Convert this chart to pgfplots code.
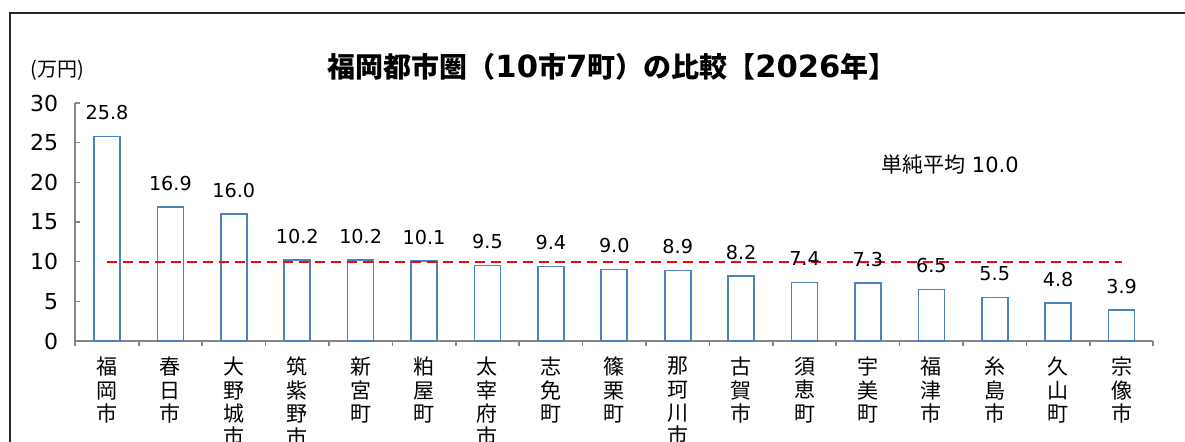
\documentclass[border=0pt]{standalone}
\usepackage{pgfplots}
\pgfplotsset{compat=1.18}
\usepackage{fontspec}
\setmainfont{DejaVu Sans}
\newfontfamily\jp{Noto Sans CJK JP}
\newfontfamily\jpb{Noto Sans CJK JP Bold}
\definecolor{barblue}{RGB}{79,129,189}
\definecolor{axgray}{RGB}{134,134,134}
\begin{document}
\begin{tikzpicture}[x=1pt,y=1pt]
\path[use as bounding box] (0,0) rectangle (592.5,220.5);
\draw[line width=1pt,black!85] (5,-10) -- (5,214) -- (600,214);
\begin{axis}[
  at={(53.5pt,50pt)}, anchor=origin,
  scale only axis, width=539pt, height=119pt,
  xmin=-0.5, xmax=16.5, ymin=0, ymax=30,
  axis x line=bottom, axis y line=left,
  axis line style={axgray, line width=1pt, -},
  ytick={0,5,...,30},
  xtick={0,...,16},
  minor xtick={-0.5,0.5,...,16.5},
  xticklabels={{福\\岡\\市},{春\\日\\市},{大\\野\\城\\市},{筑\\紫\\野\\市},{新\\宮\\町},{粕\\屋\\町},{太\\宰\\府\\市},{志\\免\\町},{篠\\栗\\町},{那\\珂\\川\\市},{古\\賀\\市},{須\\恵\\町},{宇\\美\\町},{福\\津\\市},{糸\\島\\市},{久\\山\\町},{宗\\像\\市}},
  xticklabel style={align=center, font=\jp\fontsize{10.5}{11.7}\selectfont, anchor=north, yshift=-2pt},
  yticklabel style={font=\fontsize{11}{12}\selectfont, xshift=-5pt},
  /pgf/number format/assume math mode=true,
  tick align=inside,
  major x tick style={draw=none},
  minor x tick style={axgray, line width=0.8pt},
  minor tick length=2.5pt,
  major tick length=2.5pt,
  y tick style={axgray, line width=0.8pt},
  ybar, bar width=13pt,
  nodes near coords={\pgfmathprintnumber[fixed,fixed zerofill,precision=1,assume math mode=true]{\pgfplotspointmeta}},
  nodes near coords style={font=\fontsize{9.6}{11}\selectfont, yshift=4.5pt},
  clip=false,
]
\addplot[draw=barblue, fill=white, line width=0.8pt] coordinates {
(0,25.8) (1,16.9) (2,16.0) (3,10.2) (4,10.2) (5,10.1) (6,9.5) (7,9.4) (8,9.0)
(9,8.9) (10,8.2) (11,7.4) (12,7.3) (13,6.5) (14,5.5) (15,4.8) (16,3.9)};
\addplot[sharp plot, red, line width=1.1pt, dash pattern=on 5pt off 3pt, nodes near coords={}] coordinates {(0,10) (16,10)};
\end{axis}
\node[font=\jp\fontsize{10}{12}\selectfont] at (28.5,185.5) {(万円)};
\node[font=\bfseries\fontsize{15.3}{17}\selectfont] at (306,187) {{\jpb\fontsize{14}{15}\selectfont 福岡都市圏（}10{\jpb\fontsize{14}{15}\selectfont 市}7{\jpb\fontsize{14}{15}\selectfont 町）の比較【}2026{\jpb\fontsize{14}{15}\selectfont 年】}};
\node[font=\fontsize{10.5}{12}\selectfont] at (475,138) {{\jp 単純平均} 10.0};
\end{tikzpicture}
\end{document}
